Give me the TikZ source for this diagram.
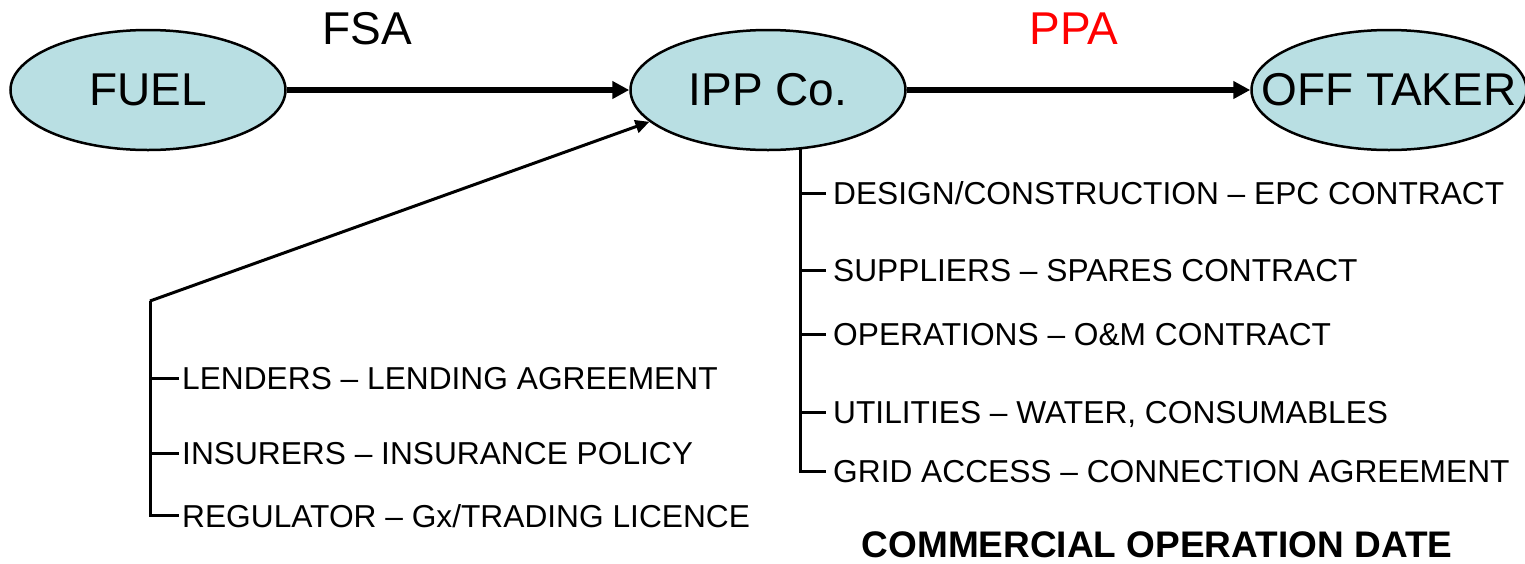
\documentclass[tikz,border=0pt]{standalone}
\usepackage{fontspec}
\setmainfont{Liberation Sans}
\usetikzlibrary{shapes.geometric,arrows.meta}
\definecolor{ellfill}{RGB}{185,223,227}
\definecolor{ppared}{RGB}{255,0,0}
\begin{document}
\begin{tikzpicture}[x=1pt,y=-1pt,
  party/.style={ellipse,draw=black,line width=2.5pt,fill=ellfill,inner sep=0pt,
    minimum width=275pt,minimum height=120pt,font=\fontsize{46}{50}\selectfont},
  biglabel/.style={font=\fontsize{46}{50}\selectfont,inner sep=0pt},
  item/.style={anchor=base west,inner sep=0pt,font=\fontsize{31.7}{36}\selectfont},
  thickarrow/.style={line width=6.5pt,-{Triangle[length=17pt,width=17pt]}},
  thinline/.style={line width=3pt},
  thinarrow/.style={line width=3pt,-{Triangle[length=14pt,width=13pt]}}]
\useasboundingbox (0,0) rectangle (1525,563);
\node[party] (fuel) at (148,90) {\makebox[0pt]{FUEL}};
\node[party] (ipp) at (768,90) {\makebox[0pt]{IPP Co.}};
\node[party] (off) at (1389,90) {\makebox[0pt]{OFF TAKER}};
\draw[thickarrow] (fuel) -- (ipp);
\draw[thickarrow] (ipp) -- (off);
\node[biglabel] (fsa) at (367,29) {FSA};
\node[biglabel,text=ppared] (ppa) at (1074,29) {PPA};
% left group
\coordinate (lc) at (150,301);
\coordinate (lb) at (150,515);
\draw[thinarrow] (lc) -- (ipp.195);
\draw[thinline] (lc) -- (lb) -- ++(29,0);
\node[item] (lend) at (182,389.5) {LENDERS – LENDING AGREEMENT};
\node[item] (ins) at (182,464) {INSURERS – INSURANCE POLICY};
\node[item] (reg) at (182,527.5) {REGULATOR – Gx/TRADING LICENCE};
\draw[thinline] (150,378) -- ++(29,0);
\draw[thinline] (150,453) -- ++(29,0);
% right group
\coordinate (rt) at (800,148);
\coordinate (rb) at (800,471);
\draw[thinline] (rt) -- (rb) -- ++(26,0);
\node[item] (des) at (833,204.5) {DESIGN/CONSTRUCTION – EPC CONTRACT};
\node[item] (sup) at (833,281.5) {SUPPLIERS – SPARES CONTRACT};
\node[item] (ops) at (833,345.5) {OPERATIONS – O\&M CONTRACT};
\node[item] (uti) at (833,423.5) {UTILITIES – WATER, CONSUMABLES};
\node[item] (grid) at (833,482.5) {GRID ACCESS – CONNECTION AGREEMENT};
\draw[thinline] (800,193) -- ++(26,0);
\draw[thinline] (800,270) -- ++(26,0);
\draw[thinline] (800,334) -- ++(26,0);
\draw[thinline] (800,412) -- ++(26,0);
\node[inner sep=0pt,anchor=base,font=\fontsize{37}{41}\selectfont\bfseries] (cod) at (1157,557) {COMMERCIAL OPERATION DATE};
\end{tikzpicture}
\end{document}
